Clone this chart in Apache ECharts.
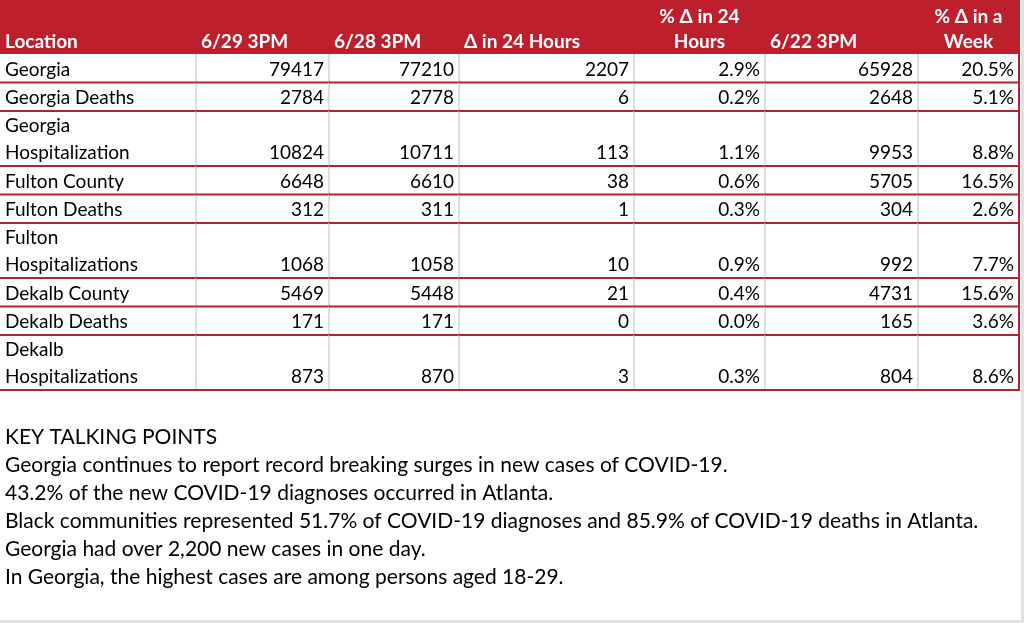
<!DOCTYPE html>
<html>
<head>
<meta charset="utf-8">
<script src="https://cdn.jsdelivr.net/npm/echarts@6/dist/echarts.min.js"></script>
<style>
  html, body { margin: 0; padding: 0; background: #fff; }
  #main { width: 1024px; height: 623px; }
</style>
</head>
<body>
<div id="main"></div>
<script>
// table data
var headers = ['Location', '6/29 3PM', '6/28 3PM', '\u0394 in 24 Hours', '% \u0394 in 24\nHours', '6/22 3PM', '% \u0394 in a\nWeek'];
var locations = ['Georgia', 'Georgia Deaths', 'Georgia\nHospitalization', 'Fulton County', 'Fulton Deaths',
    'Fulton\nHospitalizations', 'Dekalb County', 'Dekalb Deaths', 'Dekalb\nHospitalizations'];
var jun29 = [79417, 2784, 10824, 6648, 312, 1068, 5469, 171, 873];
var jun28 = [77210, 2778, 10711, 6610, 311, 1058, 5448, 171, 870];
var delta24 = [2207, 6, 113, 38, 1, 10, 21, 0, 3];
var pct24 = ['2.9%', '0.2%', '1.1%', '0.6%', '0.3%', '0.9%', '0.4%', '0.0%', '0.3%'];
var jun22 = [65928, 2648, 9953, 5705, 304, 992, 4731, 165, 804];
var pctWeek = ['20.5%', '5.1%', '8.8%', '16.5%', '2.6%', '7.7%', '15.6%', '3.6%', '8.6%'];
var talkingPoints = [
    'KEY TALKING POINTS',
    'Georgia continues to report record breaking surges in new cases of COVID-19.',
    '43.2% of the new COVID-19 diagnoses occurred in Atlanta.',
    'Black communities represented 51.7% of COVID-19 diagnoses and 85.9% of COVID-19 deaths in Atlanta.',
    'Georgia had over 2,200 new cases in one day.',
    'In Georgia, the highest cases are among persons aged 18-29.'
];

// layout
var colEdges = [0, 196, 329, 459, 634, 765, 918, 1019];
var headerH = 54, singleH = 28.5, doubleH = 55;
var FONT = 'Lato';
var RED = '#bd1f2d';
var LINE_RED = '#b3212f';

var columns = [locations, jun29, jun28, delta24, pct24, jun22, pctWeek];

// row tops
var rowTop = [headerH];
for (var i = 0; i < locations.length; i++) {
    var h = locations[i].indexOf('\n') >= 0 ? doubleH : singleH;
    rowTop.push(rowTop[i] + h);
}

var cells = [];
for (var c = 0; c < headers.length; c++) {
    cells.push([c, -1, headers[c]]);
    for (var r = 0; r < locations.length; r++) {
        cells.push([c, r, String(columns[c][r])]);
    }
}

function renderCell(params, api) {
    var c = api.value(0), r = api.value(1);
    var text = cells[params.dataIndex][2];
    var top = r < 0 ? 0 : rowTop[r];
    var bottom = r < 0 ? headerH : rowTop[r + 1];
    var p0 = api.coord([colEdges[c], top]);
    var p1 = api.coord([colEdges[c + 1], bottom]);
    var children = [];
    var lines = text.split('\n');
    if (r < 0) {
        children.push({
            type: 'rect',
            shape: { x: p0[0], y: p0[1], width: p1[0] - p0[0] + 1, height: p1[1] - p0[1] },
            style: { fill: RED }
        });
        var centered = lines.length > 1;
        for (var k = 0; k < lines.length; k++) {
            children.push({
                type: 'text',
                style: {
                    text: lines[k],
                    x: centered ? (p0[0] + p1[0]) / 2 : p0[0] + 5,
                    y: p1[1] - 12 - (lines.length - 1 - k) * 25,
                    align: centered ? 'center' : 'left',
                    verticalAlign: 'middle',
                    fill: '#fff',
                    font: 'bold 19px ' + FONT
                }
            });
        }
        return { type: 'group', children: children };
    }
    // body cell
    for (var k = 0; k < lines.length; k++) {
        children.push({
            type: 'text',
            style: {
                text: lines[k],
                x: c === 0 ? p0[0] + 5 : p1[0] - 5,
                y: p1[1] - 13 - (lines.length - 1 - k) * 27,
                align: c === 0 ? 'left' : 'right',
                verticalAlign: 'middle',
                fill: '#000',
                font: '19px ' + FONT
            }
        });
    }
    if (c < headers.length - 1) {
        children.push({
            type: 'line',
            shape: { x1: p1[0], y1: p0[1], x2: p1[0], y2: p1[1] },
            style: { stroke: '#d4d4d4', lineWidth: 1.5 }
        });
    } else {
        children.push({
            type: 'line',
            shape: { x1: p1[0], y1: p0[1] - 1, x2: p1[0], y2: p1[1] + 1 },
            style: { stroke: LINE_RED, lineWidth: 2 }
        });
    }
    children.push({
        type: 'line',
        shape: { x1: p0[0], y1: p1[1], x2: p1[0] + 1, y2: p1[1] },
        style: { stroke: LINE_RED, lineWidth: 2 }
    });
    return { type: 'group', children: children };
}

var myChart = echarts.init(document.getElementById('main'), null, { renderer: 'canvas' });

var option = {
    backgroundColor: '#fff',
    animation: false,
    title: {
        text: talkingPoints.join('\n'),
        left: 5,
        top: 423,
        padding: 0,
        textStyle: {
            fontFamily: FONT,
            fontSize: 21,
            fontWeight: 'normal',
            color: '#000',
            lineHeight: 28
        }
    },
    grid: { left: 0, right: 0, top: 0, bottom: 0 },
    xAxis: { type: 'value', min: 0, max: 1024, show: false },
    yAxis: { type: 'value', min: 0, max: 623, inverse: true, show: false },
    series: [{
        type: 'custom',
        renderItem: renderCell,
        data: cells,
        encode: { x: 0, y: 1 },
        silent: true
    }],
    graphic: [{
        type: 'rect',
        shape: { x: 1021, y: 0, width: 3, height: 623 },
        style: { fill: '#e2e2e2' }
    }, {
        type: 'rect',
        shape: { x: 0, y: 620, width: 1024, height: 3 },
        style: { fill: '#e2e2e2' }
    }]
};

myChart.setOption(option);
</script>
</body>
</html>
